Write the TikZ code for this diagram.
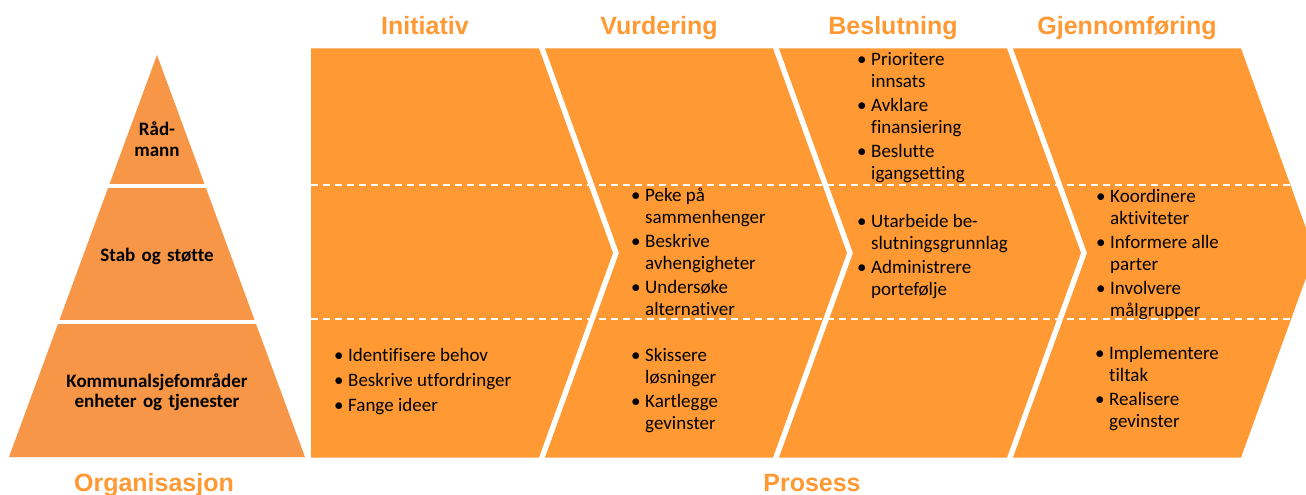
\documentclass[tikz,border=0pt]{standalone}
\usepackage{fontspec}
\setmainfont{Carlito}[Ligatures=NoCommon]
\newfontfamily\headfont{Liberation Sans}
\usepackage{tikz}
\usetikzlibrary{positioning}

\definecolor{pyrorange}{RGB}{247,150,70}
\definecolor{procorange}{RGB}{255,153,51}

% bullet lists: bullet column + text column, first row on the baseline
\newenvironment{pointlist}{\begin{tabular}[t]{@{}p{14pt}@{}l@{}}}{\end{tabular}}
\newcommand\bul{\textbullet &}

\begin{document}
\begin{tikzpicture}[x=1pt, y=-1pt,
		head/.style = {font=\headfont\bfseries\fontsize{25}{30}\selectfont,
			text=procorange, anchor=base, inner sep=0pt},% column titles
		lvl/.style = {font=\bfseries\fontsize{19}{20.5}\selectfont,
			text width=220pt, align=center, anchor=base, inner sep=0pt},
		pts/.style = {font=\fontsize{19}{22}\selectfont,
			anchor=base west, inner sep=0pt},% bullet lists
		sep/.style = {white, line width=2pt, dash pattern=on 7pt off 5pt},
		]
		\useasboundingbox (0,0) rectangle (1306,495);
		\clip (0,0) rectangle (1306,495);
		% pyramid, cut in three levels
		\fill[pyrorange] (157,55) -- (305,457) -- (9,457) -- cycle;
		\foreach \y in {186,322}
		\draw[white, line width=3.5pt] (0,\y) -- (309,\y);
		\node[lvl] (top) at (157,135.5) {Råd-\\mann};
		\node[lvl] (mid) at (157,261) {Stab og støtte};
		\node[lvl] (bot) at (157,387) {Kommunalsjefområder\\enheter og tjenester};
		% process chevrons with their titles
		\foreach \i/\t in {0/Initiativ,1/Vurdering,2/Beslutning,3/Gjennomføring}
		{
			\pgfmathsetmacro\L{311+234*\i}
			\pgfmathsetmacro\R{\L+228}
			\pgfmathsetmacro\N{\i>0 ? 74 : 0}
			\fill[procorange] (\L,48.5) -- (\R,48.5) -- (\R+74,253) -- (\R,457.5)
			-- (\L,457.5) -- (\L+\N,253) -- cycle;
			\node[head] (H\i) at (\L+114,35) {\t};
		}
		\foreach \y in {184.5,318.5}
		\draw[sep] (311,\y) -- (1306,\y);
		% bullet lists
		\node[pts] (ini-b) at (334,361.5) {\begin{pointlist}
				\bul Identifisere behov\\[3pt]
				\bul Beskrive utfordringer\\[3pt]
				\bul Fange ideer
			\end{pointlist}};
		\node[pts] (vur-m) at (631,201) {\begin{pointlist}
				\bul Peke på\\ & sammenhenger\\[2pt]
				\bul Beskrive\\ & avhengigheter\\[2pt]
				\bul Undersøke\\ & alternativer
			\end{pointlist}};
		\node[pts] (vur-b) at (631,361) {\begin{pointlist}
				\bul Skissere\\ & løsninger\\[2pt]
				\bul Kartlegge\\ & gevinster
			\end{pointlist}};
		\node[pts] (bes-t) at (857,66) {\begin{pointlist}
				\bul Prioritere\\ & innsats\\[2pt]
				\bul Avklare\\ & finansiering\\[2pt]
				\bul Beslutte\\ & igangsetting
			\end{pointlist}};
		\node[pts] (bes-m) at (857,227) {\begin{pointlist}
				\bul Utarbeide be-\\ & slutningsgrunnlag\\[2pt]
				\bul Administrere\\ & portefølje
			\end{pointlist}};
		\node[pts] (gje-m) at (1096,202) {\begin{pointlist}
				\bul Koordinere\\ & aktiviteter\\[2pt]
				\bul Informere alle\\ & parter\\[2pt]
				\bul Involvere\\ & målgrupper
			\end{pointlist}};
		\node[pts] (gje-b) at (1095,359) {\begin{pointlist}
				\bul Implementere\\ & tiltak\\[2pt]
				\bul Realisere\\ & gevinster
			\end{pointlist}};
		% captions below
		\node[head] (org) at (154,491) {Organisasjon};
		\node[head] (pro) at (812,491.5) {Prosess};
	\end{tikzpicture}
\end{document}
